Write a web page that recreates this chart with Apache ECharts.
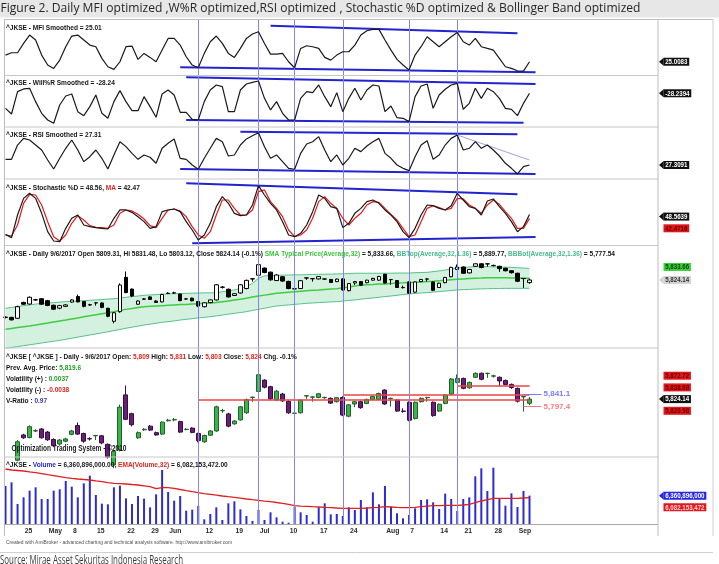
<!DOCTYPE html>
<html>
<head>
<meta charset="utf-8">
<script src="https://cdn.jsdelivr.net/npm/echarts@6.0.0/dist/echarts.min.js"></script>
<style>
  html, body { margin: 0; padding: 0; background: #fff; }
  #chart { width: 719px; height: 564px; }
</style>
</head>
<body>
<div id="chart"></div>
<script>
// trading days (2017) shown on the chart
const days = ['4/18','4/20','4/21','4/25','4/26','4/27','4/28','5/2','5/3','5/4','5/5','5/8','5/9','5/10','5/12','5/15','5/16','5/17','5/18','5/19','5/22','5/23','5/24','5/26','5/29','5/30','5/31','6/2','6/5','6/6','6/7','6/8','6/9','6/12','6/13','6/14','6/15','6/16','6/19','6/20','6/21','6/22','7/3','7/4','7/5','7/6','7/7','7/10','7/11','7/12','7/13','7/14','7/17','7/18','7/19','7/20','7/21','7/24','7/25','7/26','7/27','7/28','7/31','8/1','8/2','8/3','8/4','8/7','8/8','8/9','8/10','8/11','8/14','8/15','8/16','8/18','8/21','8/22','8/23','8/24','8/25','8/28','8/29','8/30','8/31','9/4','9/5','9/6'];
const tickLabels = {'4/25':'25','5/2':'May','5/8':'8','5/15':'15','5/22':'22','5/29':'29','6/2':'Jun','6/12':'12','6/19':'19','7/3':'Jul','7/10':'10','7/17':'17','7/24':'24','8/1':'Aug','8/7':'7','8/14':'14','8/21':'21','8/28':'28','9/4':'Sep'};
const emptyBars = 21;

const mfi = [36.3,40.3,40.3,56.1,70.3,61.8,36.3,19.4,13.7,27.8,50.5,68.6,70.3,61.8,53.3,50.5,30.7,16.5,12.0,25.0,50.5,51.6,29.0,39.2,32.4,25.0,44.8,64.6,64.6,53.3,33.5,19.4,14.8,39.2,59.0,68.6,56.1,39.2,32.4,47.6,64.6,72.0,75.9,56.1,38.0,38.0,39.2,25.0,14.8,47.6,52.2,50.5,47.6,32.4,27.8,36.3,42.0,42.0,53.3,70.3,77.6,79.9,79.9,61.8,44.8,29.0,19.4,10.9,36.3,50.5,67.5,59.0,50.5,59.0,67.5,74.8,59.0,53.3,64.6,50.5,47.6,44.8,30.7,16.5,13.7,9.7,9.2,25.0083];
const willR = [-62.3,-75.1,-24.6,-18.5,-17,-47.2,-73.6,-88.7,-96.2,-54.7,-34.4,-29.9,-69.8,-78.9,-58.5,-32.1,-73.6,-84.9,-47.2,-22.3,-47.2,-67.6,-67.6,-35.9,-58.5,-82.6,-29.9,-20.8,-32.1,-71.3,-71.3,-87.2,-88.7,-47.2,-20.8,-9.5,-13.3,-69.8,-69.8,-20.8,-7.2,-3.5,-0.5,-39.7,-66,-47.2,-73.6,-88.7,-88.7,-39.7,-24.6,-26.8,-9.5,-35.9,-58.5,-26.8,-69.8,-39.7,-17,-43.4,-20.8,-9.5,-11.8,-69.8,-57,-83.4,-84.9,-92.4,-35.9,-11.8,-7.2,-62.3,-32.1,-19.3,-9.5,-5.7,-64.5,-51,-17,-39.7,-17,-24.6,-39.7,-62.3,-64.5,-78.8,-51,-28.2394];
const rsi = [33.9,33.9,50.6,58.4,56.5,50.6,44.8,33.1,22.6,35.1,46.8,56.5,44.8,31.2,37.0,44.8,35.1,22.6,39.0,54.5,48.7,40.9,33.9,39.0,36.3,29.3,46.8,52.6,57.7,35.1,33.9,27.3,22.3,35.1,46.8,58.4,54.5,37.8,39.0,50.6,57.7,61.5,65.0,48.7,35.1,39.0,31.2,23.4,22.3,40.9,51.8,54.5,60.4,44.8,31.2,39.0,27.3,35.1,46.8,42.9,49.5,54.5,58.4,40.9,35.1,27.3,23.4,20.7,37.0,50.6,55.7,33.9,39.0,50.6,58.4,62.3,44.8,46.8,54.5,46.8,50.6,44.8,37.8,29.3,23.4,16.8,25.4,27.3091];
const stochD = [16.8,11.5,47.9,74.7,82.8,74.7,50.6,21.1,6.1,5.0,26.5,42.6,47.9,31.8,29.2,27.6,26.5,25.4,42.6,56.0,56.0,52.2,45.2,37.2,26.5,29.2,53.3,56.0,57.6,53.3,37.2,23.8,7.7,15.8,34.5,61.3,77.4,66.7,50.6,46.9,47.9,64.0,95.1,80.1,66.7,56.0,37.2,15.8,13.1,18.5,31.8,53.3,80.1,74.7,61.3,58.6,27.6,34.5,50.6,58.6,69.4,72.0,66.7,56.0,47.9,37.2,21.1,11.5,26.5,47.9,64.0,62.9,58.6,56.0,62.9,82.8,72.0,61.3,58.6,47.9,70.4,73.7,61.3,50.6,37.2,21.1,29.2,48.5639];
const stochMA = [15.8,14.2,31.8,66.7,81.2,80.1,64.0,37.2,13.1,6.1,15.8,34.5,46.9,39.9,30.8,28.1,27.6,26.5,31.8,50.6,56.0,54.4,49.0,41.5,30.8,27.6,42.6,56.0,57.6,54.4,45.2,29.2,15.8,10.4,21.1,47.9,72.0,72.0,58.6,47.9,47.9,56.0,85.5,88.2,69.4,58.6,45.2,23.8,13.1,15.8,23.8,42.6,69.4,77.4,66.7,58.6,42.6,31.8,42.6,50.6,64.0,69.4,68.3,58.6,49.0,39.9,26.5,13.1,15.8,37.2,58.6,62.9,59.7,56.0,58.6,74.7,73.7,64.0,58.6,50.6,64.0,72.0,65.1,53.3,42.6,26.5,26.5,42.4716];

const open  = [5615,5614,5609,5698,5689,5712,5719,5708,5682,5666,5676,5700,5731,5703,5685,5695,5695,5665,5592,5646,5839,5773,5688,5716,5729,5706,5701,5748,5751,5745,5717,5722,5703,5674,5697,5712,5783,5772,5737,5751,5776,5830,5851,5891,5868,5821,5842,5816,5774,5776,5835,5831,5830,5829,5827,5815,5830,5764,5807,5815,5809,5823,5823,5856,5826,5821,5782,5813,5756,5815,5829,5813,5782,5809,5842,5883,5897,5864,5901,5915,5914,5905,5901,5890,5876,5862,5832,5809.31];
const high  = [5620,5617,5680,5702,5732,5718,5722,5712,5686,5684,5688,5716,5742,5706,5690,5698,5698,5668,5645,5805,5872,5776,5710,5722,5733,5710,5746,5755,5758,5748,5722,5725,5706,5699,5715,5801,5790,5776,5750,5800,5826,5833,5915,5894,5871,5856,5846,5820,5790,5823,5838,5834,5846,5833,5830,5832,5834,5807,5818,5818,5826,5836,5847,5859,5829,5824,5792,5816,5816,5830,5832,5816,5809,5842,5898,5911,5900,5886,5918,5918,5917,5910,5904,5893,5879,5865,5835,5831.48];
const low   = [5608,5597,5605,5684,5686,5708,5685,5677,5655,5660,5672,5697,5698,5670,5678,5680,5665,5615,5581,5640,5750,5728,5684,5712,5712,5695,5698,5745,5746,5705,5714,5704,5672,5670,5694,5709,5776,5725,5734,5748,5772,5815,5848,5862,5820,5818,5814,5772,5772,5773,5825,5815,5827,5825,5807,5812,5764,5760,5796,5790,5806,5820,5820,5804,5798,5779,5776,5746,5752,5812,5815,5762,5779,5806,5839,5880,5859,5861,5898,5890,5899,5900,5870,5872,5860,5812,5780,5803.12];
const close = [5614,5600,5674,5688,5727,5713,5688,5681,5660,5680,5684,5712,5701,5676,5684,5696,5670,5620,5640,5796,5753,5734,5706,5718,5715,5698,5743,5750,5752,5708,5718,5707,5678,5696,5712,5797,5784,5729,5747,5797,5822,5831,5910,5866,5825,5852,5818,5776,5775,5820,5836,5832,5843,5830,5810,5829,5768,5804,5815,5794,5823,5833,5844,5807,5827,5782,5781,5750,5813,5827,5830,5766,5806,5838,5895,5897,5862,5883,5915,5894,5915,5906,5888,5876,5865,5817,5833,5824.14];

const sma   = [5547,5552,5557,5562,5566,5571,5577,5582,5588,5594,5599,5605,5611,5617,5623,5629,5635,5640,5646,5653,5659,5664,5669,5674,5676,5678,5680,5682,5684,5686,5687,5689,5691,5693,5695,5697,5702,5706,5711,5716,5721,5728,5734,5739,5744,5749,5752,5755,5758,5761,5764,5766,5768,5771,5773,5775,5780,5785,5790,5796,5798,5799,5801,5802,5805,5807,5808,5810,5811,5813,5815,5817,5820,5822,5825,5828,5830,5832,5834,5835,5837,5837,5836,5836,5835,5835,5834,5833.66];
const bbTop = [5665,5670,5675,5680,5684,5689,5692,5695,5697,5700,5702,5704,5706,5708,5710,5712,5714,5717,5719,5723,5727,5731,5734,5738,5740,5742,5744,5746,5747,5748,5749,5750,5751,5752,5752,5753,5758,5763,5768,5777,5787,5805,5834,5847,5849,5850,5851,5852,5853,5853,5854,5855,5856,5856,5857,5858,5859,5860,5862,5862,5862,5862,5862,5862,5862,5863,5863,5863,5865,5866,5867,5871,5875,5880,5886,5892,5894,5897,5899,5899,5899,5898,5897,5896,5895,5893,5891,5889.77];
const bbBot = [5440,5445,5450,5455,5460,5465,5470,5475,5480,5485,5491,5497,5503,5509,5515,5521,5527,5533,5540,5546,5553,5559,5565,5571,5576,5581,5586,5590,5594,5599,5603,5607,5611,5614,5618,5622,5627,5632,5637,5641,5646,5653,5659,5665,5672,5678,5681,5684,5687,5690,5693,5695,5697,5699,5701,5702,5706,5709,5712,5716,5720,5723,5727,5731,5734,5738,5742,5746,5748,5751,5753,5756,5759,5762,5765,5768,5770,5771,5773,5774,5775,5776,5776,5777,5777,5777,5777,5777.54];

// volume in millions of shares
const volumeM = [7677,8177,5226,6134,7042,7496,5907,5907,7042,7224,8359,7587,6134,8041,9085,6452,5271,5181,7496,7723,5998,5226,6315,5952,4772,6543,9857,6860,5680,6315,4318,4454,4954,3138,3864,4772,3047,5317,5589,4500,3592,2911,4409,3047,4091,3410,2820,2683,4863,4091,3728,2820,4772,5317,3819,3864,3592,4772,4409,5771,4772,6815,5181,7677,4863,3955,3274,3728,4636,5771,5862,5453,4545,6633,5907,4273,5907,6134,8994,10084,6997,10174,5998,4999,6679,4817,6997,6360.896];
const volEmaM = [9993,9857,9790,9720,9600,9494,9360,9220,9085,8950,8813,8720,8631,8560,8495,8380,8268,8150,8041,8000,7950,7880,7814,7700,7587,7320,7470,7450,7360,7200,7042,6900,6770,6650,6543,6430,6316,6220,6134,6020,5907,5810,5725,5630,5544,5430,5317,5160,4999,4950,4908,4860,4817,4770,4727,4680,4636,4636,4636,4636,4680,4727,4770,4863,4817,4770,4727,4727,4770,4863,4950,4999,4999,5045,5045,5045,5090,5180,5400,5635,5820,5998,5998,5998,5998,5998,6040,6082.153472];

// support / resistance levels on the colour candle pane: [price, first bar]
const levels = [[5872.72, 75], [5838.08, 56], [5820.98, 32]];
const optLines = [[5841.1, '#7a7aff'], [5797.4, '#ff7a7a']];
// vertical cycle markers (bar index)
const cycleBars = [32, 42, 48, 56, 67, 75];

const cats = days.concat(Array.from({ length: emptyBars }, (_, k) => 'pad' + k));
const last = a => a[a.length - 1];
const fmt2 = v => v.toLocaleString('en-US', { minimumFractionDigits: 2, maximumFractionDigits: 2 });
const fmtInt = v => Math.round(v).toLocaleString('en-US');

const L = 2.5, W = 656.5;
const panes = [
  { top: 20.5, height: 54.8, min: 2, max: 95 },
  { top: 76.8, height: 50.4, min: -105, max: 9 },
  { top: 126.7, height: 51.4, min: 12, max: 72 },
  { top: 182.6, height: 62.2, min: 0, max: 100 },
  { top: 246, height: 102, min: 5442, max: 6015 },
  { top: 348, height: 109, min: 5620.3, max: 6004.1 },
  { top: 457, height: 67, min: 2502, max: 11627 },
  { top: 19, height: 505, min: 0, max: 1 }
];

const BLUE = '#2323cf';
const trend = (a, b, c, d, style) => [{ coord: [a, b], lineStyle: style }, { coord: [c, d] }];
const ml = (data, extra) => Object.assign({
  silent: true, symbol: ['none', 'none'], animation: false,
  label: { show: false },
  lineStyle: { color: BLUE, width: 2, type: 'solid' },
  data: data
}, extra || {});

const candles = days.map((d, i) => [open[i], close[i], low[i], high[i]]);
const bandWidth = bbTop.map((v, i) => v - bbBot[i]);

const chart = echarts.init(document.getElementById('chart'), null, { renderer: 'canvas' });

const option = {
  animation: false,
  backgroundColor: '#fff',
  grid: panes.map(p => ({ left: L, width: W, top: p.top, height: p.height, show: false })),
  xAxis: panes.map((p, i) => ({
    type: 'category', gridIndex: i, data: cats, boundaryGap: true,
    axisLine: { show: false }, axisTick: { show: false }, axisLabel: { show: false }, splitLine: { show: false }
  })),
  yAxis: panes.map((p, i) => ({
    type: 'value', gridIndex: i, min: p.min, max: p.max, show: false, splitLine: { show: false }
  })),
  series: [
    { type: 'line', xAxisIndex: 0, yAxisIndex: 0, data: mfi, symbol: 'none', z: 5,
      lineStyle: { color: '#1a1a1a', width: 1.2 },
      markLine: ml([trend(44, 86.3, 85, 73.4), trend(29, 15.5, 88, 7.0)]) },
    { type: 'line', xAxisIndex: 1, yAxisIndex: 1, data: willR, symbol: 'none', z: 5,
      lineStyle: { color: '#1a1a1a', width: 1.2 },
      markLine: ml([trend(30, 7.9, 88, -7.2), trend(30, -88.7, 86, -94.8)]) },
    { type: 'line', xAxisIndex: 2, yAxisIndex: 2, data: rsi, symbol: 'none', z: 5,
      lineStyle: { color: '#1a1a1a', width: 1.2 },
      markLine: ml([trend(39, 66.2, 85, 63.1), trend(29, 22.6, 88, 16.8),
        trend(75, 62.3, 87, 33.1, { color: '#a0a0ec', width: 1 })]) },
    { type: 'line', xAxisIndex: 3, yAxisIndex: 3, data: stochD, symbol: 'none', z: 6,
      lineStyle: { color: '#1a1a1a', width: 1.2 },
      markLine: ml([trend(30, 98.9, 85, 81.2), trend(31, 2.4, 88, 12.6)]) },
    { type: 'line', xAxisIndex: 3, yAxisIndex: 3, data: stochMA, symbol: 'none', z: 5,
      lineStyle: { color: '#e41a1a', width: 1.2 } },
    // Bollinger band fill
    { type: 'line', xAxisIndex: 4, yAxisIndex: 4, data: bbBot, stack: 'bb', symbol: 'none',
      lineStyle: { opacity: 0 }, z: 1 },
    { type: 'line', xAxisIndex: 4, yAxisIndex: 4, data: bandWidth, stack: 'bb', symbol: 'none',
      lineStyle: { opacity: 0 }, areaStyle: { color: '#d3f1de', opacity: 1 }, z: 1 },
    { type: 'line', xAxisIndex: 4, yAxisIndex: 4, data: bbTop, symbol: 'none', z: 2,
      lineStyle: { color: '#58bf8d', width: 1 } },
    { type: 'line', xAxisIndex: 4, yAxisIndex: 4, data: bbBot, symbol: 'none', z: 2,
      lineStyle: { color: '#58bf8d', width: 1 } },
    { type: 'line', xAxisIndex: 4, yAxisIndex: 4, data: sma, symbol: 'none', z: 2,
      lineStyle: { color: '#3fcc3f', width: 1.5 } },
    { type: 'candlestick', xAxisIndex: 4, yAxisIndex: 4, data: candles, barWidth: 4, z: 4,
      itemStyle: { color: '#ffffff', color0: '#000000', borderColor: '#000000', borderColor0: '#000000', borderWidth: 1 } },
    { type: 'candlestick', xAxisIndex: 5, yAxisIndex: 5, data: candles, barWidth: 4.5, z: 4, clip: true,
      itemStyle: { color: '#3ab54a', color0: '#6a1e78', borderColor: '#24602c', borderColor0: '#3a0c44', borderWidth: 1 },
      markLine: ml(
        levels.map(([p, s]) => [{ coord: [s, p] }, { coord: [87, p] }]).concat(
          optLines.map(([p, c]) => [{ coord: [86, p], lineStyle: { color: c, width: 1 },
            label: { show: true, position: 'end', formatter: fmt2(p).replace(/0$/, ''), color: c,
              fontSize: 8, fontWeight: 'bold', fontFamily: 'Liberation Sans', padding: [0, 0, 8, 0], distance: 2 } },
            { coord: [89, p] }])),
        { lineStyle: { color: '#e84646', width: 1.6, type: 'solid' } }) },
    { type: 'bar', xAxisIndex: 6, yAxisIndex: 6, data: volumeM, barWidth: 2, z: 3,
      itemStyle: { color: '#2c2cd6' } },
    { type: 'line', xAxisIndex: 6, yAxisIndex: 6, data: volEmaM, symbol: 'none', z: 4,
      lineStyle: { color: '#e01f1f', width: 1.3 } },
    { type: 'line', xAxisIndex: 7, yAxisIndex: 7, data: days.map(() => null), symbol: 'none', z: 0,
      markLine: ml(cycleBars.map(i => ({ xAxis: days[i] })), { lineStyle: { color: '#8282f2', width: 1, type: 'solid' } }) }
  ]
};
chart.setOption(option);

// ---------- text & decorations ----------
const ctx = document.createElement('canvas').getContext('2d');
const FAM = '"Liberation Sans", Arial, sans-serif';
const measure = (s, font) => { ctx.font = font; return ctx.measureText(s).width; };

function run(x, y, parts, o) {
  const font = `${o.weight || 'bold'} ${o.size}px ${o.family || FAM}`;
  const full = parts.map(p => p[0]).join('');
  const sx = o.width ? o.width / measure(full, font) : o.sx;
  let cx = x;
  return parts.map(([s, c]) => {
    const el = { type: 'text', x: cx, y: y, scaleX: sx, silent: true, z: 50,
      style: { text: s, fill: c, font: font, textVerticalAlign: 'middle', verticalAlign: 'middle' } };
    cx += measure(s, font) * sx;
    return el;
  });
}

function tag(y, text, bg, fg, arrow) {
  const font = `bold 7.5px ${FAM}`;
  const sx = 0.82;
  const w = measure(text, font) * sx + 3.5;
  const els = [{ type: 'rect', silent: true, z: 60, shape: { x: 663.5, y: y - 4, width: w, height: 8 }, style: { fill: bg } }];
  if (arrow) els.push({ type: 'polygon', silent: true, z: 60, shape: { points: [[659, y], [663.6, y - 4], [663.6, y + 4]] }, style: { fill: bg } });
  els.push({ type: 'text', x: 665.2, y: y + 0.3, scaleX: sx, silent: true, z: 61,
    style: { text: text, fill: fg, font: font, textVerticalAlign: 'middle', verticalAlign: 'middle' } });
  return els;
}

const K = '#141414', RED = '#e5231f', GRN = '#1f9e1f';
const py = (g, v) => chart.convertToPixel({ gridIndex: g }, [0, v])[1];
const pxDay = d => chart.convertToPixel({ xAxisIndex: 6 }, d);

// header scale from the long Bollinger header
const bbParts = [
  [`^JKSE - Daily 9/6/2017 Open ${last(open)}, Hi ${last(high)}, Lo ${last(low)}, Close ${last(close)} (-0.1%) `, K],
  ['SMA Typical Price(Average,32)', '#3ec43e'], [` = ${fmt2(last(sma))}, `, K],
  ['BBTop(Average,32,1.36)', '#49b98a'], [` = ${fmt2(last(bbTop))}, `, K],
  ['BBBot(Average,32,1.36)', '#49b98a'], [` = ${fmt2(last(bbBot))}`, K]
];
const HS = 8;
const hsx = 609 / measure(bbParts.map(p => p[0]).join(''), `bold ${HS}px ${FAM}`);
const hdr = (x, y, parts) => run(x, y, parts, { size: HS, sx: hsx });

let g = [];
// title bar
g.push({ type: 'rect', silent: true, z: 1, shape: { x: 0, y: 0, width: 719, height: 17.5 }, style: { fill: '#e7e7e7' } });
g = g.concat(run(0.5, 8.3, [['Figure 2. Daily MFI optimized ,W%R optimized,RSI optimized , Stochastic %D optimized & Bollinger Band optimized', '#262626']],
  { size: 13, weight: 'normal', family: '"Open Sans", "Noto Sans", sans-serif', width: 640 }));

// frame and pane separators
const line = (x1, y1, x2, y2, c, w) => ({ type: 'line', silent: true, z: 20, shape: { x1, y1, x2, y2 }, style: { stroke: c, lineWidth: w || 1 } });
g.push(line(4.5, 19, 4.5, 536, '#bdbdbd'));
g.push(line(4.5, 19.5, 713, 19.5, '#bdbdbd'));
g.push(line(658, 19, 658, 536, '#bdbdbd'));
g.push(line(713, 19, 713, 536, '#cfcfcf'));
[75.5, 127, 179, 245.5, 348, 457].forEach(y => g.push(line(4.5, y, 658, y, '#c6c6c6')));
g.push(line(4.5, 524.5, 658, 524.5, '#a8a8a8'));
g.push(line(0, 552.5, 713, 552.5, '#d0d0d0'));

// pane headers
g = g.concat(hdr(6, 28, [[`^JKSE - MFI Smoothed = ${last(mfi).toFixed(2)}`, K]]));
g = g.concat(hdr(6, 83, [[`^JKSE - Will%R Smoothed = ${last(willR).toFixed(2)}`, K]]));
g = g.concat(hdr(6, 135, [[`^JKSE - RSI Smoothed = ${last(rsi).toFixed(2)}`, K]]));
g = g.concat(hdr(6, 187.5, [[`^JKSE - Stochastic %D = ${last(stochD).toFixed(2)}, `, K], ['MA', RED], [` = ${last(stochMA).toFixed(2)}`, K]]));
g = g.concat(hdr(6, 253.5, bbParts));
const r0 = v => fmtInt(v);
g = g.concat(hdr(6, 356.7, [['^JKSE [ ^JKSE ] - Daily - 9/6/2017 Open: ', K], [r0(last(open)), RED], [' High: ', K], [r0(last(high)), RED],
  [' Low: ', K], [r0(last(low)), RED], [' Close: ', K], [r0(last(close)), RED], [' Chg. -0.1%', K]]));
g = g.concat(hdr(6, 367.7, [['Prev. Avg. Price: ', K], ['5,819.6', GRN]]));
g = g.concat(hdr(6, 379, [['Volatility (+) : ', K], ['0.0037', GRN]]));
g = g.concat(hdr(6, 390, [['Volatility (-) : ', K], ['-0.0038', RED]]));
g = g.concat(hdr(6, 401, [['V-Ratio : ', K], ['0.97', '#3a3ab8']]));
g = g.concat(run(11.5, 448.3, [['Optimization Trading System - \u00a92010', '#1a1a1a']], { size: 9, width: 115 }));
g = g.concat(hdr(6, 464.5, [['^JKSE - ', K], ['Volume', '#2424e0'], [` = ${fmtInt(last(volumeM) * 1e6)}.00, `, K],
  ['EMA(Volume,32)', RED], [` = ${fmtInt(last(volEmaM) * 1e6)}.00`, K]]));

// date labels under the volume pane
days.forEach(d => {
  if (tickLabels[d]) g = g.concat(run(pxDay(d) + 1.2, 530.5, [[tickLabels[d], '#2a2a2a']], { size: 8, sx: 0.85 }));
});
g = g.concat(run(6, 542.5, [['Created with AmiBroker - advanced charting and technical analysis software. http://www.amibroker.com', '#505050']],
  { size: 6, weight: 'normal', width: 226 }));
g = g.concat(run(0, 560.5, [['Source: Mirae Asset Sekuritas Indonesia Research', '#3c3c3c']],
  { size: 12, weight: 'normal', family: '"Open Sans", "Noto Sans", sans-serif', width: 183 }));

// right-hand value tags
const TR = '#e3161c', TRT = '#5e0000';
g = g.concat(tag(py(0, last(mfi)), last(mfi).toFixed(4), '#111', '#fff', true));
g = g.concat(tag(py(1, last(willR)), last(willR).toFixed(4), '#111', '#fff', true));
g = g.concat(tag(py(2, last(rsi)), last(rsi).toFixed(4), '#111', '#fff', true));
const ys = py(3, last(stochD)) + 2;
g = g.concat(tag(ys, last(stochD).toFixed(4), '#111', '#fff', true));
g = g.concat(tag(ys + 11.7, last(stochMA).toFixed(4), TR, TRT, false));
const yb = py(4, last(close));
g = g.concat(tag(yb, fmt2(last(close)), '#d3d3d3', '#333', true));
g = g.concat(tag(yb - 13, fmt2(last(sma)), '#3bd23b', '#0b3a0b', false));
const yc = py(5, last(close));
g = g.concat(tag(yc, fmt2(last(close)), '#111', '#fff', true));
g = g.concat(tag(yc - 11.7, fmt2(levels[1][0]), TR, TRT, false));
g = g.concat(tag(yc - 23.4, fmt2(levels[0][0]), TR, TRT, false));
g = g.concat(tag(yc + 11.7, fmt2(levels[2][0]), TR, TRT, false));
const yv = py(6, last(volumeM));
g = g.concat(tag(yv, fmtInt(last(volumeM) * 1e6), '#2727e3', '#fff', true));
g = g.concat(tag(yv + 11.7, fmtInt(last(volEmaM) * 1e6), TR, '#ffd6d6', false));

chart.setOption({ graphic: { elements: g } });
</script>
</body>
</html>
